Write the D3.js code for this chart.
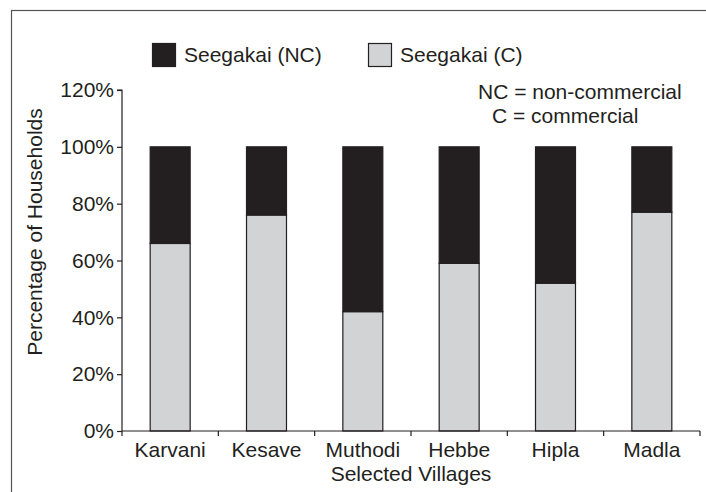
<!DOCTYPE html>
<html>
<head>
<meta charset="utf-8">
<script src="https://cdn.jsdelivr.net/npm/d3@7"></script>
<style>
  body { margin: 0; background: #fff; }
  text { font-family: "Liberation Sans", Arial, sans-serif; font-size: 21px; fill: #231f20; }
</style>
</head>
<body>
<script>
// DATA
var villages = ["Karvani", "Kesave", "Muthodi", "Hebbe", "Hipla", "Madla"];
var commercial = [66, 76, 42, 59, 52, 77];      // Seegakai (C)
var nonCommercial = [34, 24, 58, 41, 48, 23];   // Seegakai (NC)
var yTicks = [0, 20, 40, 60, 80, 100, 120];
var seriesNames = ["Seegakai (NC)", "Seegakai (C)"];
var colors = { C: "#d1d3d4", NC: "#231f20" };

var width = 706, height = 492;

var svg = d3.select("body").append("svg")
  .attr("width", width)
  .attr("height", height);

// outer frame (runs off the right and bottom edges)
svg.append("rect")
  .attr("x", 11.5).attr("y", 10.5)
  .attr("width", 900).attr("height", 700)
  .attr("fill", "none")
  .attr("stroke", "#555")
  .attr("stroke-width", 1.2);

// scales
var x = d3.scaleBand().domain(villages).range([122, 700]).padding(0);
var y = d3.scaleLinear().domain([0, 120]).range([431, 90]);
var barW = x.bandwidth() * 0.415;

// stacked data, commercial at the bottom
var rows = villages.map(function (v, i) {
  return { village: v, C: commercial[i], NC: nonCommercial[i] };
});
var stacked = d3.stack().keys(["C", "NC"])(rows);

svg.append("g")
  .selectAll("g")
  .data(stacked)
  .enter().append("g")
  .attr("fill", function (d) { return colors[d.key]; })
  .selectAll("rect")
  .data(function (d) { return d; })
  .enter().append("rect")
  .attr("x", function (d) { return x(d.data.village) + (x.bandwidth() - barW) / 2; })
  .attr("y", function (d) { return y(d[1]); })
  .attr("width", barW)
  .attr("height", function (d) { return y(d[0]) - y(d[1]); })
  .attr("stroke", "#231f20")
  .attr("stroke-width", 1.2);

// y axis
var yAxis = svg.append("g")
  .attr("transform", "translate(122,0)")
  .call(d3.axisLeft(y).tickValues(yTicks).tickSize(5).tickPadding(3)
    .tickFormat(function (d) { return d + "%"; }));
yAxis.select(".domain").attr("stroke", "#231f20").attr("stroke-width", 1.2)
  .attr("d", "M-5," + y(120) + "H0V" + y(0));
yAxis.selectAll("line").attr("stroke", "#231f20").attr("stroke-width", 1.2);
yAxis.selectAll("text").attr("font-size", 21).attr("fill", "#231f20")
  .style("font-family", "'Liberation Sans', Arial, sans-serif");

// x axis: ticks at the category boundaries
var xAxis = svg.append("g").attr("transform", "translate(0,431)");
xAxis.append("line")
  .attr("x1", x.range()[0]).attr("x2", x.range()[1])
  .attr("stroke", "#231f20").attr("stroke-width", 1.2);
var bounds = villages.map(function (v) { return x(v); }).concat([x.range()[1]]);
xAxis.selectAll("line.tick")
  .data(bounds)
  .enter().append("line")
  .attr("class", "tick")
  .attr("x1", function (d) { return d; }).attr("x2", function (d) { return d; })
  .attr("y1", 0).attr("y2", 5)
  .attr("stroke", "#231f20").attr("stroke-width", 1.2);
xAxis.selectAll("text")
  .data(villages)
  .enter().append("text")
  .attr("x", function (d) { return x(d) + x.bandwidth() / 2; })
  .attr("y", 26)
  .attr("text-anchor", "middle")
  .text(function (d) { return d; });

// axis titles
svg.append("text")
  .attr("x", 411).attr("y", 481)
  .attr("text-anchor", "middle")
  .text("Selected Villages");

svg.append("text")
  .attr("transform", "translate(42,232) rotate(-90)")
  .attr("text-anchor", "middle")
  .text("Percentage of Households");

// legend
var legendX = [152, 368];
var legendKeys = ["NC", "C"];
var legend = svg.append("g");
legend.selectAll("rect")
  .data(legendKeys)
  .enter().append("rect")
  .attr("x", function (d, i) { return legendX[i] + 0.5; })
  .attr("y", 43.5)
  .attr("width", 23).attr("height", 23)
  .attr("fill", function (d) { return colors[d]; })
  .attr("stroke", "#231f20").attr("stroke-width", 1.2);
legend.selectAll("text")
  .data(seriesNames)
  .enter().append("text")
  .attr("x", function (d, i) { return legendX[i] + 32; })
  .attr("y", 62)
  .text(function (d) { return d; });

// abbreviation note
svg.append("text").attr("x", 478).attr("y", 99).text("NC = non-commercial");
svg.append("text").attr("x", 492).attr("y", 123).text("C = commercial");
</script>
</body>
</html>
